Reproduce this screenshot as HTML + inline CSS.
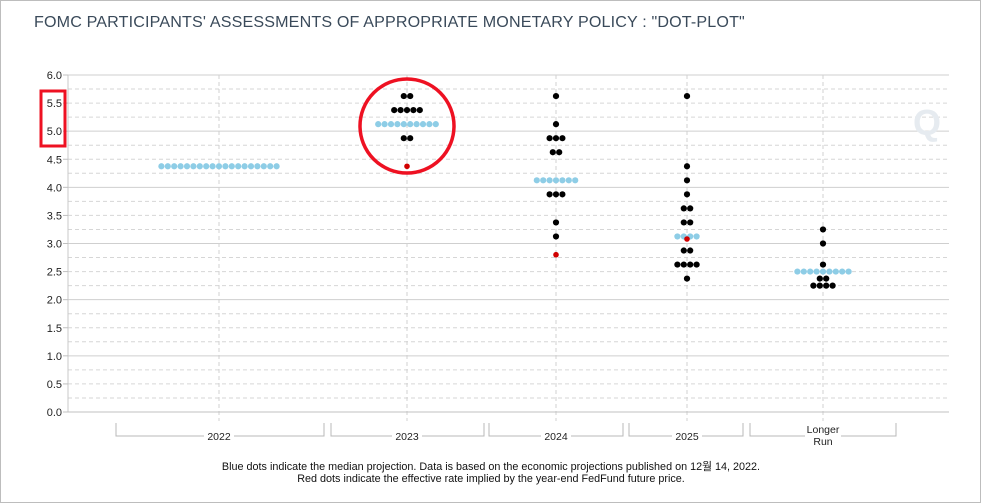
<!DOCTYPE html>
<html><head><meta charset="utf-8"><style>
body{margin:0;background:#fff;}
#wrap{position:relative;width:979px;height:501px;border:1px solid #bdbdbd;font-family:"Liberation Sans","Noto Sans CJK KR",sans-serif;overflow:hidden}
#title{position:absolute;left:33px;top:12px;font-size:16.1px;color:#3a4a5a;letter-spacing:0.15px}
svg{position:absolute;left:0;top:0}
</style></head><body>
<div id="wrap">
<div id="title">FOMC PARTICIPANTS' ASSESSMENTS OF APPROPRIATE MONETARY POLICY : "DOT-PLOT"</div>
<svg id="chart" width="981" height="503"></svg>
</div>
<script>
const categories=["2022","2023","2024","2025","Longer Run"];
const levels=[
 [[4.375,19,"b"]],
 [[5.625,2,"k"],[5.375,5,"k"],[5.125,10,"b"],[4.875,2,"k"]],
 [[5.625,1,"k"],[5.125,1,"k"],[4.875,3,"k"],[4.625,2,"k"],[4.125,7,"b"],[3.875,3,"k"],[3.375,1,"k"],[3.125,1,"k"]],
 [[5.625,1,"k"],[4.375,1,"k"],[4.125,1,"k"],[3.875,1,"k"],[3.625,2,"k"],[3.375,2,"k"],[3.125,4,"b"],[2.875,2,"k"],[2.625,4,"k"],[2.375,1,"k"]],
 [[3.25,1,"k"],[3.0,1,"k"],[2.625,1,"k"],[2.5,9,"b"],[2.375,2,"k"],[2.25,4,"k"]]
];
const redDots=[null,4.375,2.8,3.08,null];
const yTicks=[0,0.5,1,1.5,2,2.5,3,3.5,4,4.5,5,5.5,6];
const catX=[218,406,555,686,822];
const brackets=[[115,323],[330,483],[488,622],[628,742],[749,895]];
const NS="http://www.w3.org/2000/svg";
const svg=document.getElementById('chart');
const x0=67,x1=948,yTop=74,yBot=411;
const y=v=>yBot-(v/6)*(yBot-yTop);
function mk(t,a,p){const e=document.createElementNS(NS,t);for(const k in a)e.setAttribute(k,a[k]);(p||svg).appendChild(e);return e;}
for(let v=0;v<=6.0001;v+=0.25){
 const solid=Math.abs(v-Math.round(v))<1e-6;
 const l=mk('line',{x1:x0,x2:x1,y1:y(v),y2:y(v),stroke:solid?'#cfcfcf':'#d6d6d6','stroke-dasharray':solid?'':'4,3'});
 
 
}
catX.forEach(cx=>{const l=mk('line',{x1:cx,x2:cx,y1:yTop,y2:yBot+9,stroke:'#d0d0d0','stroke-dasharray':'4,3'});
 
 });
mk('line',{x1:x0,x2:x0,y1:yTop,y2:yBot,stroke:'#c8c8c8'});
mk('line',{x1:x0,x2:x1,y1:yBot,y2:yBot,stroke:'#c0c0c0'});
yTicks.forEach(v=>{
 mk('line',{x1:x0-5,x2:x0,y1:y(v),y2:y(v),stroke:'#c0c0c0'});
 const t=mk('text',{x:x0-6,y:y(v)+4,'text-anchor':'end','font-size':11,fill:'#222'});
 t.textContent=v.toFixed(1);
 
 
});
categories.forEach((c,i)=>{
 const [a,b]=brackets[i];
 mk('path',{d:`M${a},422V435H${b}V422`,fill:'none',stroke:'#b8b8b8'});
 const cx=catX[i];
 if(c==="Longer Run"){
  mk('rect',{x:cx-18,y:422,width:36,height:24,fill:'#fff'});
  const t=mk('text',{x:cx,y:432,'text-anchor':'middle','font-size':10.5,fill:'#222'});t.textContent="Longer";
  
  const t2=mk('text',{x:cx,y:444,'text-anchor':'middle','font-size':10.5,fill:'#222'});t2.textContent="Run";
  
 } else {
  mk('rect',{x:cx-15,y:429,width:30,height:12,fill:'#fff'});
  const t=mk('text',{x:cx,y:439,'text-anchor':'middle','font-size':10.5,fill:'#222'});t.textContent=c;
  
 }
});
const sp=6.4,r=3.1;
levels.forEach((lv,i)=>{
 lv.forEach(([v,n,col])=>{
  for(let k=0;k<n;k++){
   const cx=catX[i]+(k-(n-1)/2)*sp;
   const d=mk('circle',{cx:cx,cy:y(v),r:r,fill:col==="b"?'#8ecde6':'#000'});
   
   
  }
 });
 if(redDots[i]!==null){
  const d=mk('circle',{cx:catX[i],cy:y(redDots[i]),r:2.8,fill:'#d00000'});
  
  
 }
});
const c=mk('circle',{cx:406,cy:125,r:47,fill:'none',stroke:'#ee1122','stroke-width':3.5});

const rr=mk('rect',{x:40,y:90,width:24,height:55,fill:'none',stroke:'#ee1122','stroke-width':3});

const q=mk('text',{x:912,y:134,'font-size':36,'font-weight':'bold',fill:'#e6ebf0'});q.textContent="Q";

const f1=mk('text',{x:490,y:469,'text-anchor':'middle','font-size':10.8,fill:'#111'});
f1.textContent="Blue dots indicate the median projection. Data is based on the economic projections published on 12월 14, 2022.";

const f2=mk('text',{x:490,y:481,'text-anchor':'middle','font-size':10.8,fill:'#111'});
f2.textContent="Red dots indicate the effective rate implied by the year-end FedFund future price.";

</script>
</body></html>
